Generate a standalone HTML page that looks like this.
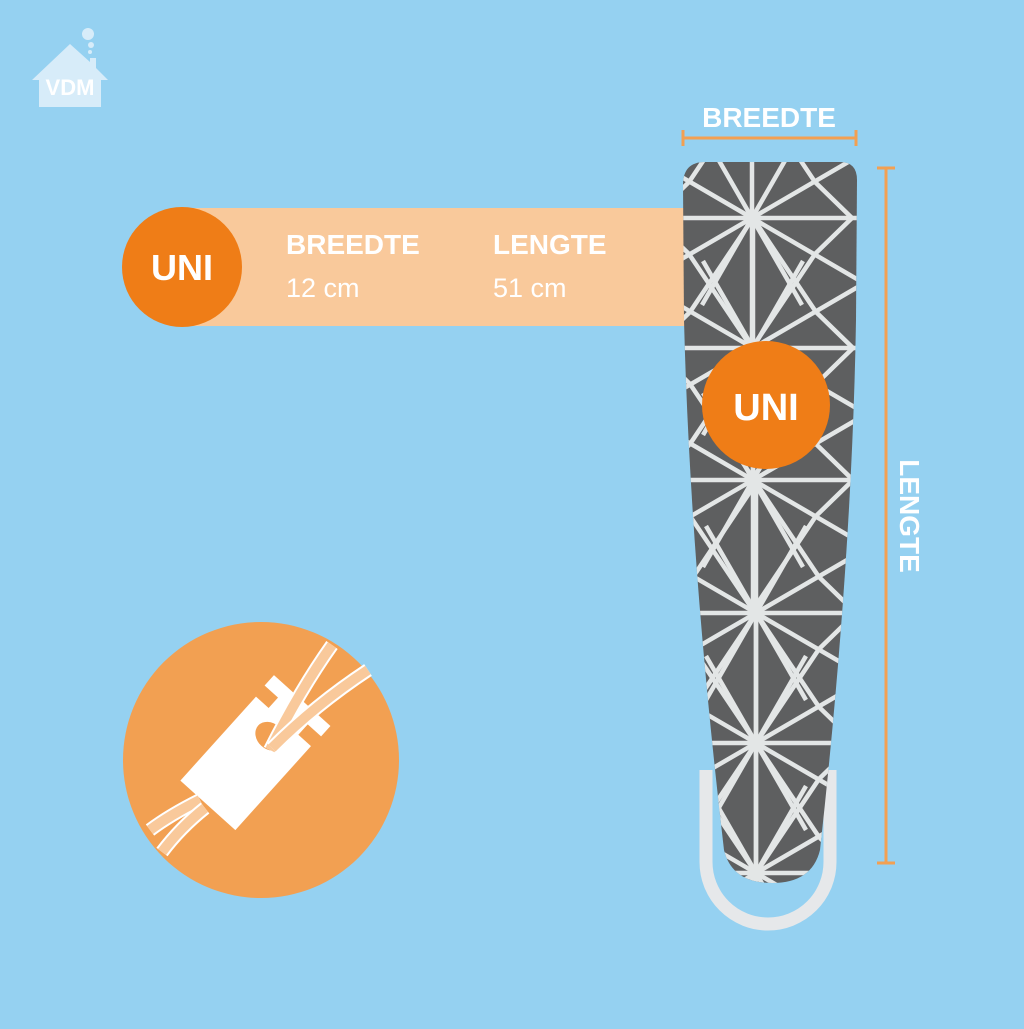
<!DOCTYPE html><html><head><style>
body{margin:0;width:1024px;height:1024px;background:#95d1f1;overflow:hidden;font-family:"Liberation Sans",sans-serif}
</style></head><body>
<svg width="1024" height="1024" viewBox="0 0 1024 1024" xmlns="http://www.w3.org/2000/svg">
<rect width="1024" height="1024" fill="#95d1f1"/>
<g fill="#d7ecf9">
<path d="M32 80 L70 44 L90 62 L90 58 L96 58 L96 68 L108 80 L101 80 L101 107 L39 107 L39 80 Z"/>
<circle cx="88" cy="34" r="6"/><circle cx="91" cy="45" r="3"/><circle cx="90" cy="52" r="2"/>
</g>
<text x="70" y="95" text-anchor="middle" font-size="22" font-weight="bold" fill="#fff">VDM</text>
<rect x="180" y="208" width="505" height="118" fill="#f9c99b"/>
<circle cx="182" cy="267" r="60" fill="#ef7d17"/>
<text x="182" y="280" text-anchor="middle" font-size="36" font-weight="bold" fill="#fff">UNI</text>
<text x="286" y="254" font-size="28" font-weight="bold" fill="#fff">BREEDTE</text>
<text x="286" y="297" font-size="27" fill="#fff">12 cm</text>
<text x="493" y="254" font-size="28" font-weight="bold" fill="#fff">LENGTE</text>
<text x="493" y="297" font-size="27" fill="#fff">51 cm</text>
<path d="M706 770 L706 862 A62 62 0 0 0 830 862 L830 770" fill="none" stroke="#e6e8ea" stroke-width="13"/>
<defs>
<clipPath id="b"><path d="M705 162 L840 162 Q857 162 857 180 L856 320 Q852 560 820 850 Q812 883 772 883 Q732 883 724 850 Q690 560 684 320 L683 185 Q683 162 705 162 Z"/></clipPath>
<g id="s"><line x1="0" y1="-130" x2="0" y2="130"/><line x1="-120" y1="0" x2="120" y2="0"/><line x1="-110" y1="-64" x2="110" y2="64"/><line x1="-110" y1="64" x2="110" y2="-64"/><line x1="-50" y1="-87" x2="50" y2="87"/><line x1="-50" y1="87" x2="50" y2="-87"/>
<polygon points="0,-130 63,-36 100,0 63,36 0,130 -63,36 -100,0 -63,-36"/></g>
</defs>
<path d="M705 162 L840 162 Q857 162 857 180 L856 320 Q852 560 820 850 Q812 883 772 883 Q732 883 724 850 Q690 560 684 320 L683 185 Q683 162 705 162 Z" fill="#5e5f60"/>
<g clip-path="url(#b)" stroke="#e3e6e6" stroke-width="4.5" fill="none">
<use href="#s" x="752" y="218"/><use href="#s" x="753" y="348"/><use href="#s" x="753" y="480"/><use href="#s" x="756" y="613"/><use href="#s" x="756" y="743"/><use href="#s" x="756" y="873"/>
</g>
<circle cx="766" cy="405" r="64" fill="#ef7d17"/>
<text x="766" y="420" text-anchor="middle" font-size="38" font-weight="bold" fill="#fff">UNI</text>
<g stroke="#f2a052" stroke-width="3">
<line x1="683" y1="138" x2="856" y2="138"/><line x1="683" y1="130" x2="683" y2="146"/><line x1="856" y1="130" x2="856" y2="146"/>
<line x1="886" y1="168" x2="886" y2="863"/><line x1="877" y1="168" x2="895" y2="168"/><line x1="877" y1="863" x2="895" y2="863"/>
</g>
<text x="769" y="127" text-anchor="middle" font-size="28" font-weight="bold" fill="#fff">BREEDTE</text>
<text transform="translate(900,516) rotate(90)" text-anchor="middle" font-size="28" font-weight="bold" fill="#fff">LENGTE</text>
<circle cx="261" cy="760" r="138" fill="#f2a052"/>
<g transform="translate(246,763) rotate(42)">
<rect x="-38" y="-84" width="76" height="14" fill="#fff"/>
<rect x="-20" y="-72" width="40" height="18" fill="#fff"/>
<rect x="-37" y="-56" width="74" height="113" fill="#fff"/>
<ellipse cx="0" cy="-36" rx="16" ry="13" fill="#f2a052"/>
</g>
<g fill="none">
<path d="M332 645 Q300 690 270 750" stroke="#fff" stroke-width="14"/>
<path d="M332 645 Q300 690 270 750" stroke="#f9c99b" stroke-width="10"/>
<path d="M368 670 Q315 705 272 748" stroke="#fff" stroke-width="14"/>
<path d="M368 670 Q315 705 272 748" stroke="#f9c99b" stroke-width="10"/>
<path d="M200 800 Q170 815 150 830" stroke="#fff" stroke-width="14"/>
<path d="M200 800 Q170 815 150 830" stroke="#f9c99b" stroke-width="10"/>
<path d="M205 808 Q180 828 162 852" stroke="#fff" stroke-width="14"/>
<path d="M205 808 Q180 828 162 852" stroke="#f9c99b" stroke-width="10"/>
</g>
</svg>
</body></html>
